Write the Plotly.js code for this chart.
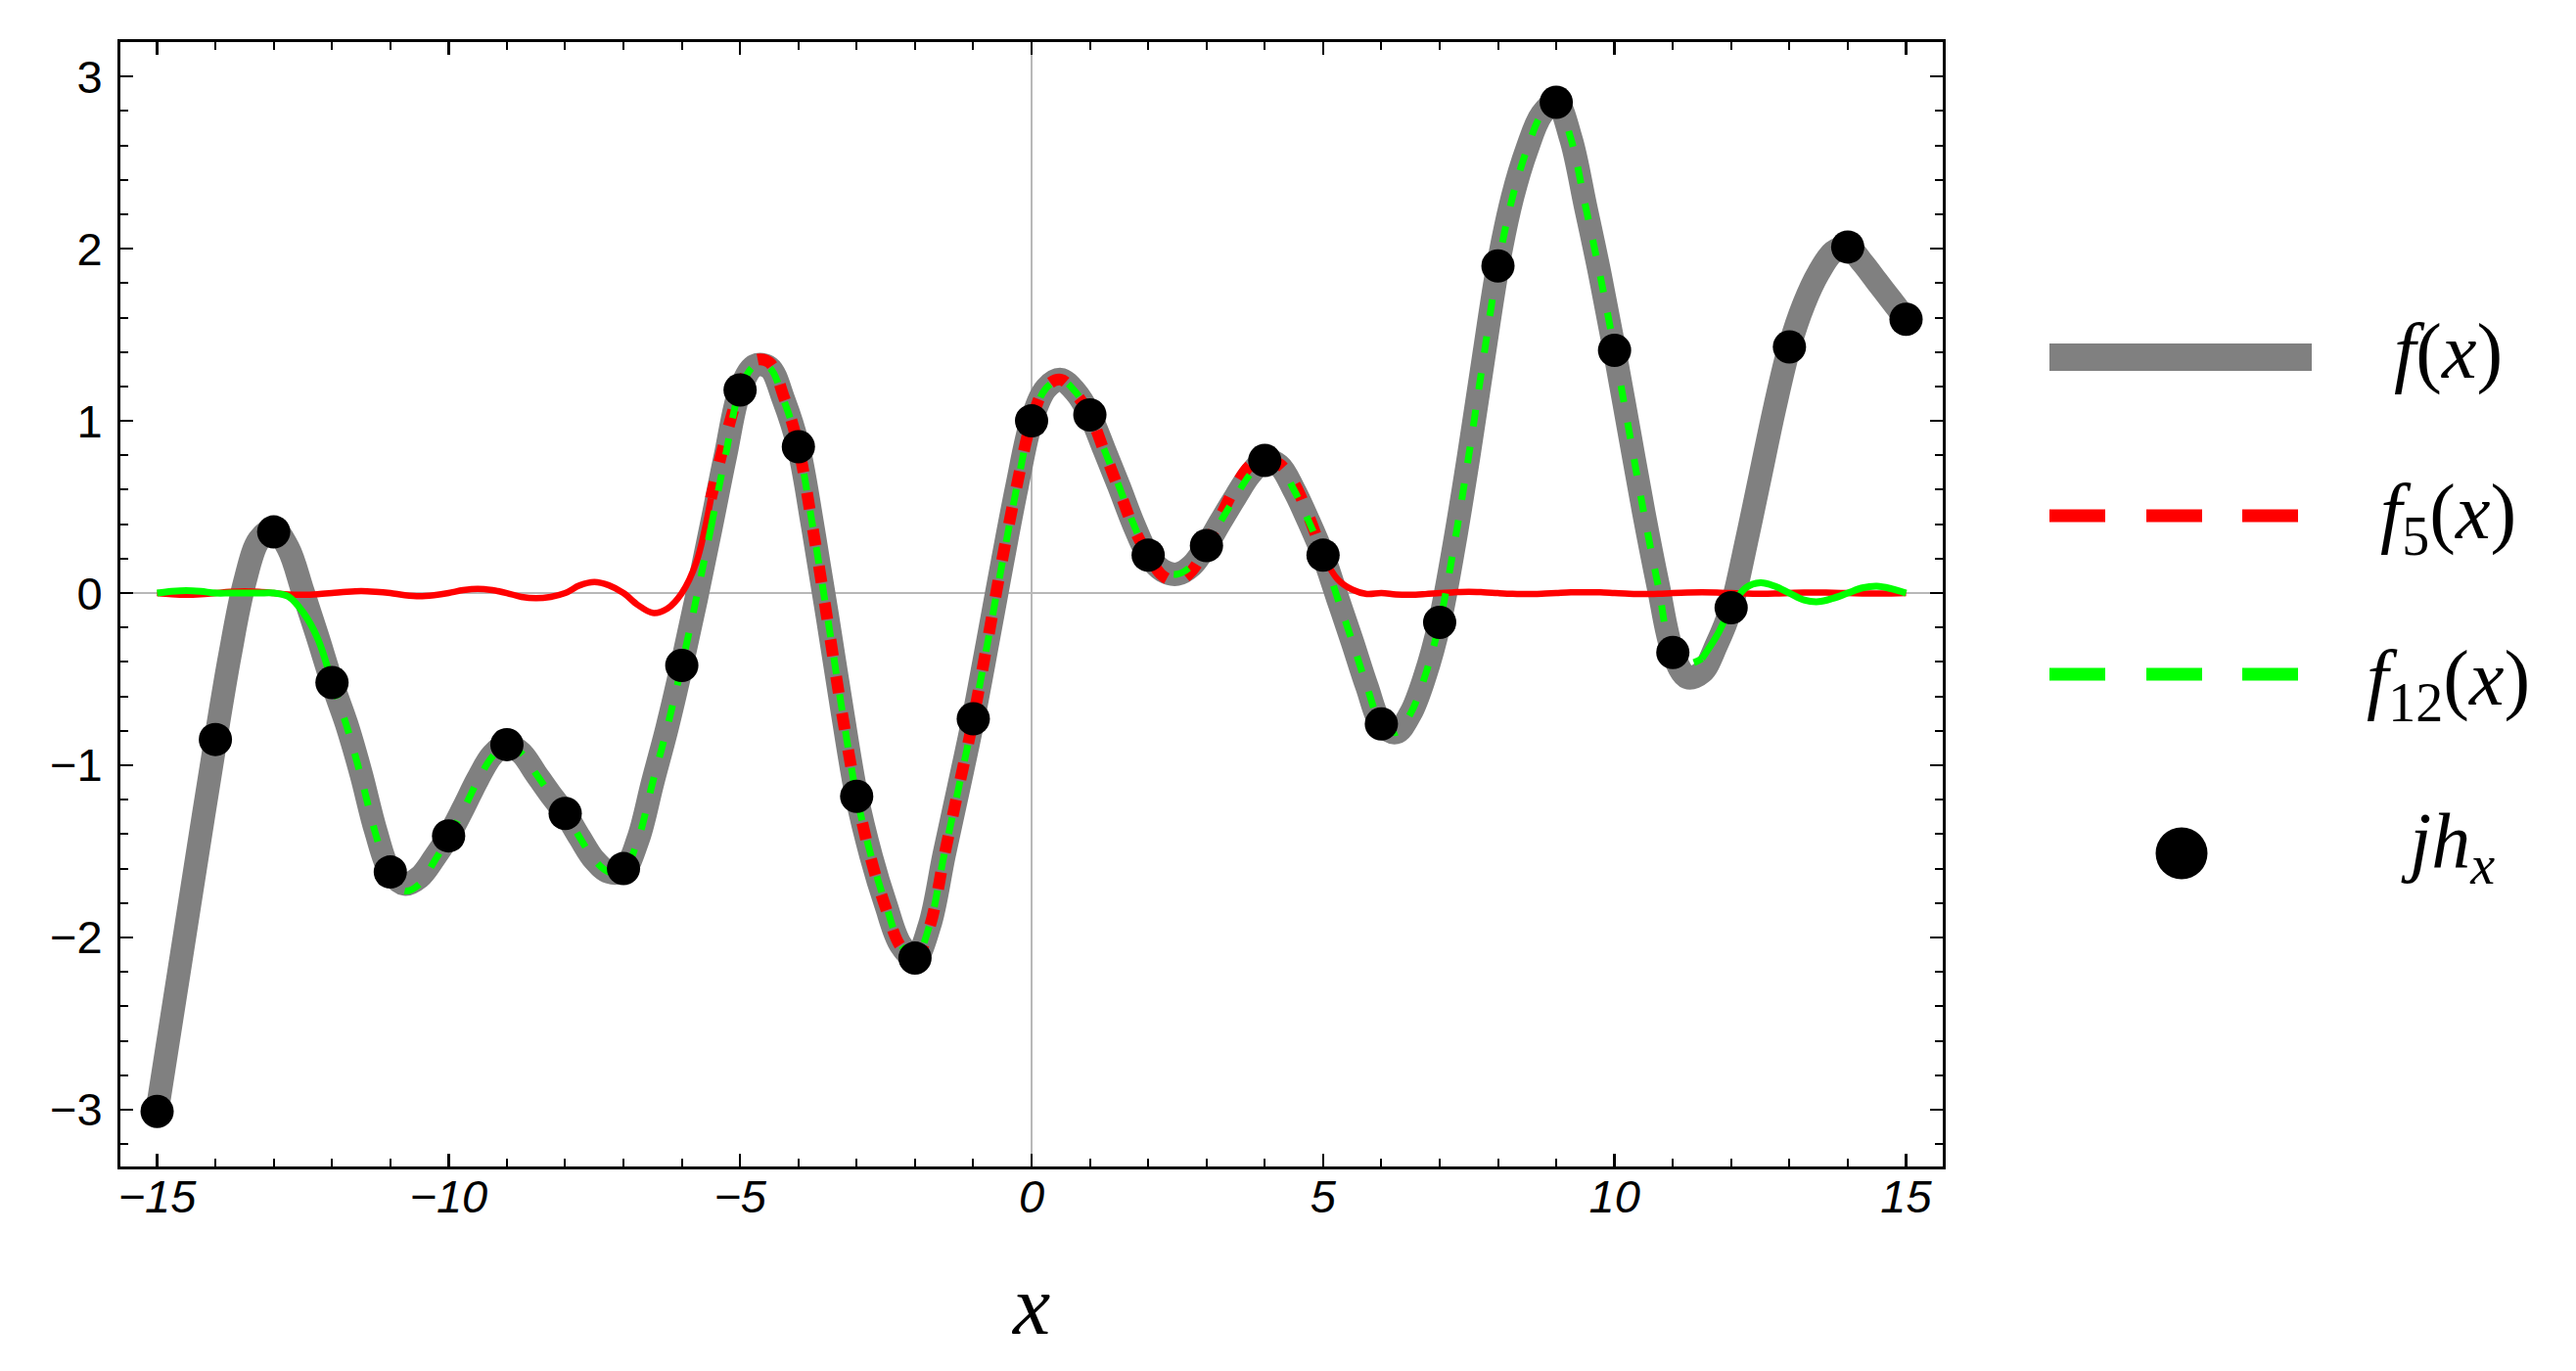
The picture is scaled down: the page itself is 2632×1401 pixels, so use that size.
<!DOCTYPE html>
<html><head><meta charset="utf-8">
<script src="https://cdn.plot.ly/plotly-3.0.1.min.js"></script>
<style>html,body{margin:0;padding:0;background:#fff}#chart{width:2632px;height:1401px}</style>
</head><body><div id="chart"></div>
<script>
const xGrid = [-15,-14.75,-14.5,-14.25,-14,-13.75,-13.5,-13.25,-13,-12.75,-12.5,-12.25,-12,-11.75,-11.5,-11.25,-11,-10.75,-10.5,-10.25,-10,-9.75,-9.5,-9.25,-9,-8.75,-8.5,-8.25,-8,-7.75,-7.5,-7.25,-7,-6.75,-6.5,-6.25,-6,-5.75,-5.5,-5.25,-5,-4.75,-4.5,-4.25,-4,-3.75,-3.5,-3.25,-3,-2.75,-2.5,-2.25,-2,-1.75,-1.5,-1.25,-1,-0.75,-0.5,-0.25,0,0.25,0.5,0.75,1,1.25,1.5,1.75,2,2.25,2.5,2.75,3,3.25,3.5,3.75,4,4.25,4.5,4.75,5,5.25,5.5,5.75,6,6.25,6.5,6.75,7,7.25,7.5,7.75,8,8.25,8.5,8.75,9,9.25,9.5,9.75,10,10.25,10.5,10.75,11,11.25,11.5,11.75,12,12.25,12.5,12.75,13,13.25,13.5,13.75,14,14.25,14.5,14.75,15];

const fY = [-3.01,-2.47,-1.93,-1.39,-0.86,-0.36,0.06,0.31,0.37,0.26,0.01,-0.25,-0.52,-0.76,-1.05,-1.38,-1.62,-1.69,-1.65,-1.54,-1.41,-1.25,-1.08,-0.94,-0.88,-0.93,-1.05,-1.17,-1.28,-1.42,-1.55,-1.62,-1.61,-1.43,-1.10,-0.78,-0.42,-0.03,0.38,0.80,1.18,1.32,1.31,1.12,0.85,0.38,-0.14,-0.68,-1.18,-1.53,-1.81,-2.04,-2.12,-1.93,-1.52,-1.13,-0.73,-0.28,0.18,0.62,1.00,1.19,1.24,1.17,1.035,0.83,0.62,0.40,0.22,0.13,0.11,0.16,0.276,0.42,0.56,0.69,0.77,0.74,0.60,0.42,0.22,-0.03,-0.28,-0.54,-0.76,-0.81,-0.70,-0.48,-0.17,0.28,0.80,1.36,1.90,2.30,2.58,2.78,2.85,2.64,2.25,1.85,1.41,0.94,0.47,0.04,-0.345,-0.49,-0.46,-0.30,-0.085,0.28,0.68,1.08,1.43,1.68,1.86,1.98,2.01,1.92,1.81,1.70,1.59];

const f5Y = [0,-0.007,-0.01,-0.007,0,0.007,0.01,0.007,0,-0.008,-0.01,-0.007,0,0.008,0.012,0.008,0,-0.012,-0.018,-0.012,0,0.017,0.025,0.017,0,-0.022,-0.03,-0.022,0,0.045,0.064,0.045,0,-0.07,-0.115,-0.09,0,0.18,0.55,0.90,1.18,1.35,1.34,1.14,0.85,0.37,-0.16,-0.70,-1.18,-1.55,-1.83,-2.05,-2.12,-1.94,-1.53,-1.13,-0.73,-0.27,0.20,0.63,1.00,1.20,1.24,1.16,1.035,0.82,0.60,0.38,0.22,0.10,0.07,0.13,0.276,0.45,0.62,0.74,0.77,0.75,0.64,0.45,0.22,0.08,0.02,-0.005,0,-0.008,-0.01,-0.006,0,0.005,0.008,0.005,0,-0.004,-0.006,-0.004,0,0.004,0.005,0.004,0,-0.004,-0.006,-0.004,0,0.003,0.004,0.003,0,-0.003,-0.004,-0.003,0,0.003,0.003,0.002,0,-0.002,-0.003,-0.002,0];

const f12Y = [0,0.01,0.015,0.01,0,0,0,0,0,-0.02,-0.11,-0.26,-0.52,-0.77,-1.07,-1.40,-1.64,-1.73,-1.69,-1.56,-1.42,-1.26,-1.09,-0.95,-0.88,-0.93,-1.05,-1.17,-1.28,-1.42,-1.55,-1.62,-1.61,-1.43,-1.10,-0.78,-0.42,-0.03,0.38,0.80,1.18,1.32,1.31,1.12,0.85,0.38,-0.14,-0.68,-1.18,-1.53,-1.81,-2.04,-2.12,-1.93,-1.52,-1.13,-0.73,-0.28,0.18,0.62,1.00,1.19,1.24,1.17,1.035,0.83,0.62,0.40,0.22,0.13,0.11,0.16,0.276,0.42,0.56,0.69,0.77,0.74,0.60,0.42,0.22,-0.03,-0.28,-0.54,-0.76,-0.81,-0.70,-0.48,-0.17,0.28,0.80,1.36,1.90,2.30,2.58,2.78,2.85,2.64,2.25,1.85,1.41,0.94,0.47,0.04,-0.345,-0.41,-0.38,-0.25,-0.085,0.03,0.06,0.04,0,-0.04,-0.05,-0.03,0,0.03,0.04,0.025,0];

const jX = [-15,-14,-13,-12,-11,-10,-9,-8,-7,-6,-5,-4,-3,-2,-1,0,1,2,3,4,5,6,7,8,9,10,11,12,13,14,15];
const jY = [-3.01,-0.85,0.355,-0.52,-1.62,-1.41,-0.88,-1.28,-1.60,-0.42,1.18,0.85,-1.18,-2.12,-0.73,1.00,1.035,0.22,0.276,0.77,0.22,-0.76,-0.17,1.90,2.85,1.41,-0.345,-0.085,1.43,2.01,1.59];

const seriesNames = ['f(x)', 'f5(x)', 'f12(x)', 'jh_x'];
const legendLabels = ['<i>f</i>(<i>x</i>)', '<i>f</i><sub>5</sub>(<i>x</i>)', '<i>f</i><sub>12</sub>(<i>x</i>)', '<i>jh</i><sub><i>x</i></sub>'];

// ---- layout geometry (pixels) ----
const W = 2632, H = 1401;
const L = 123, R = 1985, T = 43, B = 1192;
const px = x => (x - L) / (R - L);
const py = y => (B - y) / (B - T);

const GRAY = '#808080', RED = '#ff0000', GREEN = '#00ff00';
const DASH = '17px,21px';

// pick the part of a series lying in [a, b]
function part(xs, ys, a, b) {
  const sx = [], sy = [];
  xs.forEach((x, i) => { if (x >= a - 1e-9 && x <= b + 1e-9) { sx.push(x); sy.push(ys[i]); } });
  return {x: sx, y: sy};
}
function lineTrace(seg, name, color, width, dash) {
  return Object.assign({}, seg, {name: name, mode: 'lines', legendgroup: name,
    line: {color: color, width: width, shape: 'spline', smoothing: 1, dash: dash || 'solid'}});
}

const traces = [
  lineTrace(part(xGrid, fY, -15, 15), seriesNames[0], GRAY, 24),
  // f5: solid where it leaves f, dashed where it runs along f
  lineTrace(part(xGrid, f5Y, -15, -5.5), seriesNames[1], RED, 6.5),
  lineTrace(part(xGrid, f5Y, -5.5, 5), seriesNames[1], RED, 12, DASH),
  lineTrace(part(xGrid, f5Y, 5, 15), seriesNames[1], RED, 6.5),
  // f12
  lineTrace(part(xGrid, f12Y, -15, -12), seriesNames[2], GREEN, 7),
  lineTrace(part(xGrid, f12Y, -12, -5.5), seriesNames[2], GREEN, 7, DASH),
  lineTrace(part(xGrid, f12Y, -5.5, 11.5), seriesNames[2], GREEN, 7, DASH),
  lineTrace(part(xGrid, f12Y, 11.5, 15), seriesNames[2], GREEN, 7),
  {x: jX, y: jY, name: seriesNames[3], mode: 'markers', marker: {color: 'black', size: 34}}
];

// manual legend (long line samples like the reference)
const shapes = [];
const legY = [365, 527, 689, 872];
shapes.push({type: 'line', xref: 'paper', yref: 'paper', x0: px(2094), x1: px(2362), y0: py(legY[0]), y1: py(legY[0]), line: {color: GRAY, width: 28}});
const dashSegs = [[2094, 2151], [2193, 2250], [2291, 2348]];
[[RED, legY[1]], [GREEN, legY[2]]].forEach(([c, yy]) => {
  dashSegs.forEach(([a, b]) => shapes.push({type: 'line', xref: 'paper', yref: 'paper', x0: px(a), x1: px(b), y0: py(yy), y1: py(yy), line: {color: c, width: 13}}));
});
const dotR = 26.5, dotCx = 2229;
shapes.push({type: 'circle', xref: 'paper', yref: 'paper', x0: px(dotCx - dotR), x1: px(dotCx + dotR), y0: py(legY[3] + dotR), y1: py(legY[3] - dotR), fillcolor: 'black', line: {width: 0}});

const annotations = legendLabels.map((t, i) => ({
  xref: 'paper', yref: 'paper', x: px(2501), y: py([359, 529, 699, 865][i]),
  xanchor: 'center', yanchor: 'middle', showarrow: false, text: t,
  font: {family: 'Liberation Serif', size: 80, color: 'black'}
}));

const axisCommon = {
  showgrid: false, showline: true, linewidth: 3, linecolor: 'black', mirror: 'allticks',
  ticks: 'inside', ticklen: 13, tickwidth: 2.5, tickcolor: 'black',
  zeroline: true, zerolinecolor: '#b8b8b8', zerolinewidth: 1.5
};

const layout = {
  width: W, height: H, paper_bgcolor: 'white', plot_bgcolor: 'white',
  margin: {l: L, r: W - R, t: T, b: H - B}, showlegend: false,
  xaxis: Object.assign({}, axisCommon, {
    range: [-15.63, 15.63], tickmode: 'linear', tick0: 0, dtick: 5,
    minor: {dtick: 1, ticks: 'inside', ticklen: 8, tickwidth: 2, tickcolor: 'black', showgrid: false},
    tickfont: {family: 'Liberation Sans', size: 47, color: 'black', style: 'italic'},
    ticklabelstandoff: -12,
    title: {text: 'x', standoff: 55, font: {family: 'Liberation Serif', size: 86, color: 'black', style: 'italic'}}
  }),
  yaxis: Object.assign({}, axisCommon, {
    range: [-3.33, 3.2], tickmode: 'linear', tick0: 0, dtick: 1,
    minor: {dtick: 0.2, ticks: 'inside', ticklen: 8, tickwidth: 2, tickcolor: 'black', showgrid: false},
    tickfont: {family: 'Liberation Sans', size: 47, color: 'black'},
    ticklabelstandoff: 6
  }),
  shapes: shapes, annotations: annotations
};

Plotly.newPlot('chart', traces, layout, {staticPlot: true, displayModeBar: false});
</script></body></html>
